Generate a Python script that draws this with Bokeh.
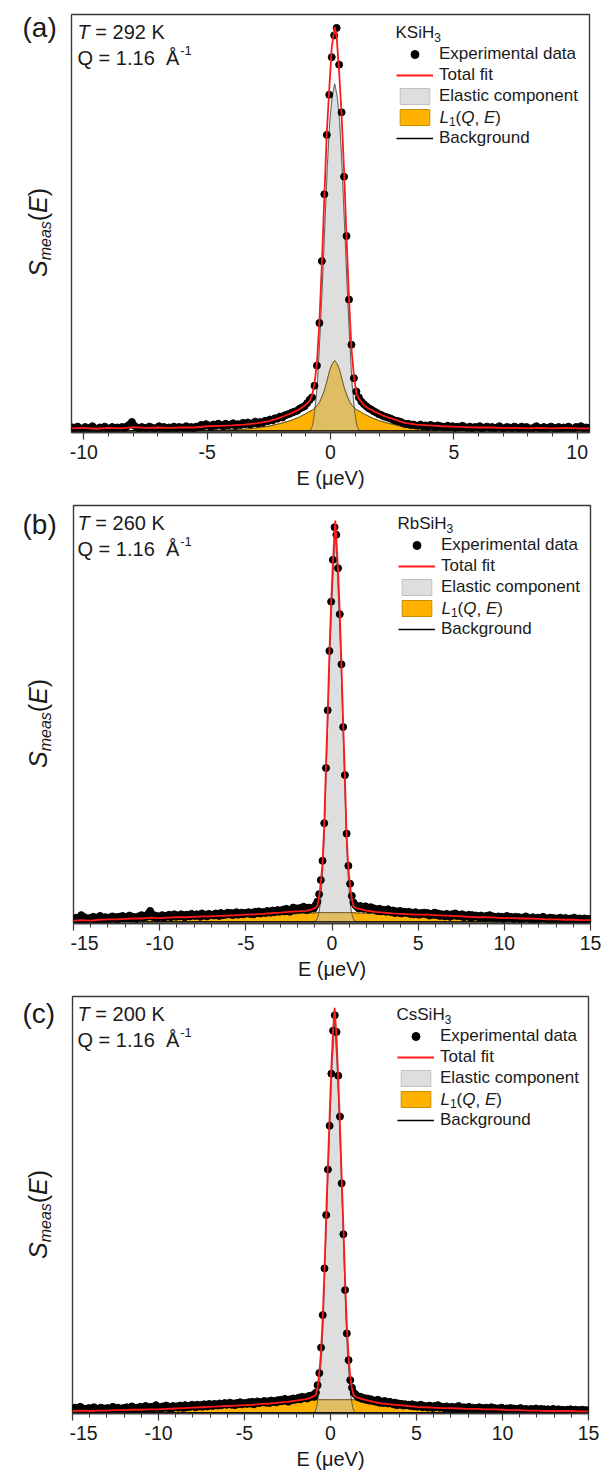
import numpy as np
from bokeh.plotting import figure
from bokeh.models import Range1d, Label, Legend, LegendItem, SingleIntervalTicker
from bokeh.layouts import column, row
from bokeh.embed import file_html
from bokeh.resources import INLINE

FONT = "Liberation Sans"
INK = "#1a1a1a"
FRAME = "#3a3a3a"

# ---------------- data (intensity in arbitrary units, frame height = 1000) ----------------
# energy channels (0.1 ueV bins)
E_data_a = np.round(np.linspace(-10.45, 10.45, 210), 2)
E_data_b = np.round(np.linspace(-14.95, 14.95, 300), 2)
E_data_c = np.round(np.linspace(-14.95, 14.95, 300), 2)

data_a = [
    12, 8, 14, 10, 7, 13, 11, 9, 15, 10,
    8, 12, 11, 14, 9, 10, 13, 7, 12, 11,
    13, 10, 15, 19, 25, 16, 12, 9, 13, 11,
    10, 14, 12, 8, 11, 15, 10, 13, 9, 12,
    11, 14, 9, 13, 12, 10, 15, 11, 13, 9,
    14, 12, 18, 15, 20, 17, 13, 19, 16, 21,
    18, 15, 21, 17, 19, 22, 16, 20, 18, 23,
    20, 24, 19, 22, 26, 21, 25, 23, 28, 27,
    31, 29, 34, 33, 38, 36, 41, 43, 45, 48,
    50, 52, 57, 60, 63, 70, 78, 84, 112, 160,
    262, 410, 570, 712, 808, 898, 950, 968, 880, 766,
    612, 470, 318, 210, 130, 98, 84, 74, 68, 63,
    58, 55, 51, 48, 44, 42, 39, 37, 35, 33,
    30, 28, 27, 25, 22, 20, 21, 18, 19, 17,
    16, 19, 15, 17, 14, 18, 16, 13, 17, 15,
    14, 12, 16, 13, 15, 11, 14, 12, 16, 13,
    11, 14, 10, 13, 12, 15, 9, 12, 14, 11,
    13, 10, 12, 15, 11, 9, 13, 12, 10, 14,
    12, 9, 14, 11, 13, 10, 8, 12, 15, 11,
    10, 13, 9, 12, 14, 11, 10, 13, 8, 12,
    11, 14, 10, 9, 13, 12, 15, 10, 12, 11]

data_b = [
    10, 14, 6, 12, 20, 9, 15, 11, 7, 13,
    12, 16, 9, 14, 11, 18, 10, 13, 15, 8,
    14, 11, 17, 12, 15, 9, 16, 13, 18, 12,
    15, 13, 19, 12, 16, 14, 11, 17, 15, 20,
    14, 18, 16, 24, 30, 22, 15, 19, 13, 17,
    16, 20, 14, 18, 17, 21, 15, 19, 22, 16,
    19, 17, 22, 18, 15, 21, 20, 17, 23, 19,
    18, 22, 20, 16, 24, 19, 21, 17, 23, 20,
    21, 19, 24, 22, 18, 25, 20, 23, 21, 26,
    22, 25, 20, 24, 27, 21, 23, 26, 22, 25,
    24, 27, 23, 26, 22, 28, 25, 29, 24, 27,
    27, 25, 30, 28, 26, 31, 27, 29, 32, 28,
    30, 33, 29, 35, 31, 28, 34, 38, 32, 36,
    33, 37, 34, 40, 36, 32, 38, 35, 37, 36,
    44, 52, 70, 104, 150, 240, 372, 510, 652, 770,
    870, 948, 930, 850, 740, 620, 470, 355, 215, 138,
    95, 66, 50, 44,
    40, 36, 42, 38, 35, 41, 37, 33, 39, 34,
    36, 32, 30, 35, 29, 33, 31, 28, 34, 30,
    27, 31, 25, 29, 26, 30, 24, 28, 27, 25,
    28, 23, 26, 22, 27, 24, 21, 25, 23, 26,
    22, 25, 19, 23, 21, 26, 20, 24, 18, 22,
    21, 17, 23, 20, 16, 22, 19, 24, 18, 21,
    18, 22, 15, 19, 17, 21, 14, 20, 16, 19,
    17, 14, 19, 16, 13, 18, 15, 20, 14, 17,
    15, 12, 17, 14, 16, 11, 15, 18, 13, 16,
    14, 11, 16, 13, 15, 10, 14, 12, 17, 13,
    13, 10, 15, 12, 9, 14, 11, 13, 16, 12,
    12, 9, 14, 11, 13, 8, 12, 10, 14, 11,
    10, 13, 8, 11, 12, 9, 14, 10, 8, 12,
    10, 8, 12, 9, 11, 10]

data_c = [
    9, 14, 6, 11, 16, 8, 12, 5, 10, 13,
    8, 12, 15, 7, 11, 9, 14, 6, 12, 10,
    13, 9, 11, 16, 8, 12, 14, 10, 7, 13,
    11, 15, 9, 13, 17, 10, 12, 14, 9, 16,
    13, 10, 18, 14, 12, 16, 11, 15, 20, 13,
    15, 12, 17, 14, 19, 13, 16, 11, 18, 15,
    17, 14, 19, 16, 13, 20, 15, 18, 16, 21,
    18, 15, 21, 17, 20, 16, 22, 19, 17, 23,
    20, 18, 23, 21, 19, 24, 20, 22, 25, 21,
    22, 26, 21, 24, 20, 25, 23, 27, 22, 24,
    25, 23, 27, 24, 28, 22, 26, 29, 25, 27,
    27, 30, 26, 29, 25, 31, 28, 30, 27, 32,
    29, 33, 30, 35, 31, 28, 34, 32, 36, 33,
    35, 38, 34, 40, 37, 39, 36, 42, 40, 44,
    40, 50, 68, 97, 158, 236, 348, 476, 585, 690,
    815, 918, 955, 915, 810, 712, 552, 430, 296, 192,
    128, 80, 62, 50, 46,
    42, 38, 40, 35, 37, 33, 36, 31, 34, 30,
    31, 28, 33, 26, 29, 25, 30, 27, 24, 28,
    25, 22, 26, 20, 24, 21, 23, 19, 22, 20,
    21, 18, 22, 17, 20, 16, 19, 21, 15, 18,
    17, 14, 19, 16, 13, 18, 15, 20, 14, 16,
    15, 12, 17, 14, 11, 16, 13, 15, 12, 18,
    14, 11, 15, 13, 10, 16, 12, 14, 11, 13,
    12, 15, 10, 13, 11, 14, 9, 12, 15, 11,
    13, 10, 12, 9, 14, 11, 8, 12, 10, 13,
    10, 12, 8, 11, 9, 13, 10, 7, 11, 9,
    9, 11, 7, 10, 12, 8, 9, 11, 6, 10,
    8, 10, 7, 9, 11, 6, 8, 10, 7, 9,
    8, 6, 9, 7, 10, 8, 5, 9, 7, 8,
    7, 9, 6, 8, 7]

# total fit (red)
E_fit_a = [-10.5, -10, -9.5, -9, -8.5, -8, -7.5, -7, -6.5, -6,
           -5.5, -5, -4.5, -4, -3.5, -3, -2.5, -2.2, -1.85, -1.55,
           -1.25, -1.05, -0.85, -0.75, -0.65, -0.55, -0.45, -0.35, -0.25, -0.15,
           -0.05, 0.05, 0.17, 0.25, 0.35, 0.45, 0.55, 0.65, 0.75, 0.85,
           0.95, 1.05, 1.15, 1.35, 1.55, 1.85, 2.15, 2.55, 3, 3.5,
           4, 4.5, 5, 5.5, 6, 6.5, 7, 7.5, 8, 8.5, 9, 9.5, 10, 10.5]
fit_a = [10, 11, 9, 11, 10, 13, 11, 12, 11, 12,
         12, 15, 16, 17, 19, 22, 27, 32, 40, 47,
         56, 64, 75, 88, 117, 166, 264, 403, 562, 718,
         821, 921, 970, 946, 862, 760, 625, 466, 319, 201,
         135, 93, 81, 66, 57, 48, 40, 32, 23, 19,
         17, 15, 14, 13, 12, 12, 11, 11, 10, 11, 10, 11, 10, 10]

E_fit_b = [-15, -14.5, -14, -13.5, -13, -12.5, -12, -11.5, -11, -10.5,
           -10, -9.5, -9, -8.5, -8, -7.5, -7, -6.5, -6, -5.5,
           -5, -4.5, -4, -3.5, -3, -2.5, -2, -1.5, -1.2, -0.95,
           -0.85, -0.75, -0.65, -0.55, -0.45, -0.35, -0.25, -0.15, -0.05, 0.05,
           0.15, 0.19, 0.25, 0.35, 0.45, 0.55, 0.65, 0.75, 0.85, 0.95,
           1.05, 1.15, 1.25, 1.4, 1.7, 2, 2.5, 3, 3.5, 4,
           4.5, 5, 5.5, 6, 6.5, 7, 7.5, 8, 8.5, 9,
           9.5, 10, 10.5, 11, 11.5, 12, 12.5, 13, 13.5, 14, 14.5, 15]
fit_b = [7, 8, 7, 9, 10, 10, 11, 12, 12, 14,
         13, 14, 15, 15, 16, 17, 17, 18, 19, 20,
         21, 22, 23, 25, 26, 28, 29, 30, 33, 38,
         43, 63, 98, 146, 236, 380, 502, 647, 765, 863,
         935, 964, 921, 847, 745, 617, 477, 350, 210, 131,
         90, 59, 42, 37, 34, 31, 28, 26, 24, 23,
         22, 21, 21, 20, 19, 18, 17, 16, 15, 15,
         14, 13, 13, 12, 12, 11, 10, 10, 9, 9, 8, 8]

E_fit_c = [-15, -14.5, -14, -13.5, -13, -12.5, -12, -11.5, -11, -10.5,
           -10, -9.5, -9, -8.5, -8, -7.5, -7, -6.5, -6, -5.5,
           -5, -4.5, -4, -3.5, -3, -2.5, -2, -1.5, -1.2, -1.0,
           -0.85, -0.75, -0.65, -0.55, -0.45, -0.35, -0.25, -0.15, -0.05, 0.05,
           0.15, 0.24, 0.35, 0.45, 0.55, 0.65, 0.75, 0.85, 0.95, 1.05,
           1.15, 1.25, 1.35, 1.5, 1.8, 2.2, 2.6, 3, 3.5, 4,
           4.5, 5, 5.5, 6, 6.5, 7, 7.5, 8, 8.5, 9,
           9.5, 10, 10.5, 11, 11.5, 12, 12.5, 13, 13.5, 14, 14.5, 15]
fit_c = [6, 7, 6, 7, 7, 8, 8, 9, 9, 10,
         10, 11, 12, 13, 14, 15, 16, 17, 18, 19,
         20, 21, 23, 24, 26, 28, 31, 34, 37, 41,
         45, 63, 99, 149, 233, 345, 475, 598, 715, 832,
         919, 973, 904, 802, 692, 566, 449, 318, 212, 138,
         88, 59, 43, 39, 35, 31, 27, 24, 22, 20,
         18, 16, 15, 14, 13, 13, 12, 11, 11, 10,
         10, 9, 8, 8, 7, 7, 6, 6, 6, 6, 5, 5]

# fit components (elastic, L1) on common energy points, above background
E_comp_a = [-10.5, -8, -6, -4.5, -3.5, -3, -2.5, -2, -1.6, -1.3, -1.0,
            -0.83, -0.73, -0.63, -0.53, -0.43, -0.33, -0.23, -0.13, -0.03, 0.07, 0.17,
            0.27, 0.37, 0.47, 0.57, 0.67, 0.77, 0.87, 0.97, 1.07, 1.17,
            1.34, 1.64, 1.94, 2.34, 2.84, 3.34, 3.84, 4.84, 6.34, 8.34, 10.5]
elastic_a = [0, 0, 0, 0, 0, 0, 0, 0, 0, 0, 0,
             0, 12, 50, 115, 225, 350, 490, 630, 740, 800, 830,
             800, 740, 630, 490, 350, 225, 115, 50, 12, 0,
             0, 0, 0, 0, 0, 0, 0, 0, 0, 0, 0]
lorentz_a = [0, 0, 1, 2, 4, 7, 11, 18, 25, 32, 41,
             47, 50, 55, 61, 70, 84, 100, 122, 145, 160, 168,
             160, 145, 122, 100, 84, 70, 61, 55, 50, 47,
             41, 32, 25, 18, 11, 7, 4, 2, 1, 0, 0]

E_comp_b = [-15, -12, -9, -7, -5, -3.5, -2.5, -1.8, -1.3, -1.05,
            -0.95, -0.85, -0.75, -0.65, -0.55, -0.45, -0.35, -0.25, -0.15, -0.05,
            0.05, 0.19, 0.33, 0.43, 0.53, 0.63, 0.73, 0.83, 0.93, 1.03,
            1.13, 1.23, 1.33, 1.43, 1.7, 2.2, 2.9, 3.9, 5.4, 7.4, 9.4, 12.4, 15]
elastic_b = [0, 0, 0, 0, 0, 0, 0, 0, 0, 0,
             2, 8, 22, 55, 115, 200, 340, 475, 610, 720,
             820, 930, 820, 720, 610, 475, 340, 200, 115, 55,
             22, 8, 2, 0, 0, 0, 0, 0, 0, 0, 0, 0, 0]
lorentz_b = [3, 5, 8, 11, 14, 17, 18.5, 20, 21, 21,
             22, 22, 22, 22, 22, 22, 22, 22, 22, 22,
             22, 22, 22, 22, 22, 22, 22, 22, 22, 22,
             22, 22, 21.5, 21, 21, 20, 18.5, 17, 14, 11, 8, 5, 3]

E_comp_c = [-15, -12, -9, -7, -5, -3.5, -2.5, -1.8, -1.3, -1.0,
            -0.91, -0.81, -0.71, -0.61, -0.51, -0.41, -0.31, -0.21, -0.11, -0.01,
            0.09, 0.24, 0.39, 0.49, 0.59, 0.69, 0.79, 0.89, 0.99, 1.09,
            1.19, 1.29, 1.39, 1.48, 1.78, 2.28, 2.98, 3.98, 5.48, 7.48, 9.48, 12.48, 15]
elastic_c = [0, 0, 0, 0, 0, 0, 0, 0, 0, 0,
             2, 12, 38, 85, 140, 235, 365, 490, 610, 725,
             830, 935, 830, 725, 610, 490, 365, 235, 140, 85,
             38, 12, 2, 0, 0, 0, 0, 0, 0, 0, 0, 0, 0]
lorentz_c = [2, 4, 7, 10, 15, 20, 24, 27, 29, 31,
             31, 31, 31, 31, 31, 31, 31, 31, 31, 31,
             31, 31, 31, 31, 31, 31, 31, 31, 31, 31,
             31, 31, 31, 31, 29, 27, 22, 18, 13, 10, 7, 4, 2]

# flat background
bg_E_a, bg_a = [-10.5, 10.5], [4, 4]
bg_E_b, bg_b = [-15, 15], [4, 4]
bg_E_c, bg_c = [-15, 15], [2, 2]

samples = ["KSiH", "RbSiH", "CsSiH"]
temps = ["292 K", "260 K", "200 K"]
letters = ["(a)", "(b)", "(c)"]
q_text = "Q = 1.16"
x_label = "E (μeV)"

for a, b in [(E_data_a, data_a), (E_data_b, data_b), (E_data_c, data_c), (E_fit_a, fit_a),
             (E_fit_b, fit_b), (E_fit_c, fit_c), (E_comp_a, elastic_a), (E_comp_a, lorentz_a),
             (E_comp_b, elastic_b), (E_comp_b, lorentz_b), (E_comp_c, elastic_c), (E_comp_c, lorentz_c)]:
    assert len(a) == len(b), (len(a), len(b))

# ---------------- helpers ----------------
ADV = {'K': .667, 'S': .667, 'i': .222, 'H': .722, 'R': .722, 'b': .556, 'C': .722, 's': .5,
       'T': .611, ' ': .278, '=': .584, '.': .278, 'Q': .778, 'Å': .667, 'E': .667, 'L': .556,
       '(': .333, ')': .333, ',': .278, 'm': .833, 'e': .556, 'a': .556, 'μ': .576, 'V': .667,
       '-': .333}


def tw(s, size):
    return sum(ADV.get(c, .556) for c in s) * size


def txt(p, h, x, y_mid, text, size, style="normal", angle=0.0):
    """Label centred vertically (text middle) at y_mid px below the frame top (frame height h)."""
    p.add_layout(Label(x=x, y=h - y_mid, x_units="screen", y_units="screen", text=text,
                       text_font=FONT, text_font_size=f"{size}px", text_font_style=style,
                       text_color=INK, text_align="left", text_baseline="middle", angle=angle))


W_TOTAL = 616


def panel(i, E, data, E_fit, fit, E_comp, el, l1, bg_E, bg, xlim, left_abs, fw, fh, bt, bb, letter_mid):
    strip_w = left_abs - 3
    br = W_TOTAL - left_abs - fw
    H = bt + fh + bb
    p = figure(frame_width=fw, frame_height=fh, x_range=Range1d(*xlim), y_range=Range1d(0, 1000),
               min_border_left=3, min_border_right=br, min_border_top=bt, min_border_bottom=bb,
               toolbar_location=None, output_backend="svg", y_axis_location=None)
    p.xgrid.visible = False
    p.ygrid.visible = False
    p.outline_line_color = FRAME
    p.outline_line_width = 1.4
    ax = p.xaxis[0]
    ax.ticker = SingleIntervalTicker(interval=5, num_minor_ticks=5)
    ax.major_label_overrides = {-15: "-15", -10: "-10", -5: "-5"}
    ax.axis_line_color = FRAME
    ax.axis_line_width = 1.4
    ax.major_tick_line_color = FRAME
    ax.major_tick_line_width = 1.2
    ax.major_tick_in = 0
    ax.major_tick_out = 7
    ax.minor_tick_line_color = FRAME
    ax.minor_tick_line_width = 1
    ax.minor_tick_in = 0
    ax.minor_tick_out = 4
    ax.major_label_text_font = FONT
    ax.major_label_text_font_size = "19.5px"
    ax.major_label_text_color = INK
    ax.major_label_standoff = 5
    ax.axis_label = x_label
    ax.axis_label_text_font = FONT
    ax.axis_label_text_font_size = "20px"
    ax.axis_label_text_font_style = "normal"
    ax.axis_label_text_color = INK
    ax.axis_label_standoff = 5

    base = bg[0]
    n = len(E_comp)
    xs = list(E_comp) + list(E_comp)[::-1]
    el_top = [base + v for v in el]
    l1_top = [base + v for v in l1]
    tan_top = [base + min(u, v) for u, v in zip(el, l1)]
    r_el = p.patch(xs, el_top + [base] * n, fill_color="#dedede", line_color="#c0c0c0", line_width=1)
    r_l1 = p.patch(xs, l1_top + [base] * n, fill_color="#ffb300", line_color="#c98e00", line_width=1)
    p.patch(xs, tan_top + [base] * n, fill_color="#dfbd62", line_color=None)
    p.line(E_comp, el_top, line_color="#4a4a4a", line_width=0.8)
    p.line(E_comp, l1_top, line_color="#3a3a3a", line_width=0.7)
    r_bg = p.line(bg_E, bg, line_color="black", line_width=1.3)
    r_data = p.scatter(E, data, size=7, marker="circle", fill_color="black", line_color="black")
    r_fit = p.line(E_fit, fit, line_color="#ff1a1a", line_width=1.8)

    legend = Legend(items=[LegendItem(label="Experimental data", renderers=[r_data]),
                           LegendItem(label="Total fit", renderers=[r_fit]),
                           LegendItem(label="Elastic component", renderers=[r_el]),
                           LegendItem(label=" ", renderers=[r_l1]),
                           LegendItem(label="Background", renderers=[r_bg])],
                    location=(325, fh - 134), orientation="vertical", padding=0, margin=0, spacing=1,
                    glyph_width=37, glyph_height=20, label_height=20, label_standoff=6,
                    label_text_font=FONT, label_text_font_size="17px", label_text_color=INK,
                    background_fill_alpha=0, border_line_alpha=0)
    p.add_layout(legend, "center")

    # legend title with subscript
    s = samples[i]
    txt(p, fh, 324, 18, s, 17)
    txt(p, fh, 324 + tw(s, 17), 23, "3", 12)
    # L1(Q, E) label (4th legend row)
    x0, yc = 325 + 37 + 6, 103
    txt(p, fh, x0, yc, "L", 17, "italic")
    txt(p, fh, x0 + tw("L", 17), yc + 4, "1", 12)
    x1 = x0 + tw("L", 17) + tw("1", 12)
    txt(p, fh, x1, yc, "(", 17)
    txt(p, fh, x1 + tw("(", 17), yc, "Q", 17, "italic")
    txt(p, fh, x1 + tw("(Q", 17), yc, ",", 17)
    txt(p, fh, x1 + tw("(Q, ", 17), yc, "E", 17, "italic")
    txt(p, fh, x1 + tw("(Q, E", 17), yc, ")", 17)

    # T and Q annotations
    tx = 77 - left_abs
    txt(p, fh, tx, 17, "T", 20, "italic")
    txt(p, fh, tx + tw("T ", 20), 17, "= " + temps[i], 20)
    txt(p, fh, tx, 43, q_text, 20)
    ax_ = tx + tw(q_text + "  ", 20)
    txt(p, fh, ax_, 43, "Å", 20)
    txt(p, fh, ax_ + tw("Å", 20) + 1, 36, "-1", 13)

    # left strip (its frame lines up with the main frame): panel letter and rotated y label
    st = figure(width=strip_w, height=H, min_border=0, x_range=Range1d(0, 1), y_range=Range1d(0, 1),
                toolbar_location=None, output_backend="svg", x_axis_location=None,
                y_axis_location=None, outline_line_color=None)
    st.grid.visible = False
    txt(st, fh, 22, letter_mid, letters[i], 28)
    xm = 37.5
    y0 = 262.5
    ang = np.pi / 2
    txt(st, fh, xm, y0, "S", 25, "italic", angle=ang)
    txt(st, fh, xm + 7, y0 - tw("S", 25), "meas", 16, "italic", angle=ang)
    yy = y0 - tw("S", 25) - tw("meas", 16)
    txt(st, fh, xm, yy, "(", 25, angle=ang)
    txt(st, fh, xm, yy - tw("(", 25), "E", 25, "italic", angle=ang)
    txt(st, fh, xm, yy - tw("(E", 25), ")", 25, angle=ang)
    return row(st, p, spacing=0)


pa = panel(0, E_data_a, data_a, E_fit_a, fit_a, E_comp_a, elastic_a, lorentz_a, bg_E_a, bg_a,
           (-10.5, 10.5), 71, 518, 418, 14, 66, 12.5)
pb = panel(1, E_data_b, data_b, E_fit_b, fit_b, E_comp_b, elastic_b, lorentz_b, bg_E_b, bg_b,
           (-15, 15), 73, 517, 418, 7, 66, 18.5)
pc = panel(2, E_data_c, data_c, E_fit_c, fit_c, E_comp_c, elastic_c, lorentz_c, bg_E_c, bg_c,
           (-15, 15), 72, 516, 417, 7, 59, 16.5)

layout = column(pa, pb, pc, spacing=0)
open("out.html", "w").write(file_html(layout, INLINE, title="S_meas(E)"))
